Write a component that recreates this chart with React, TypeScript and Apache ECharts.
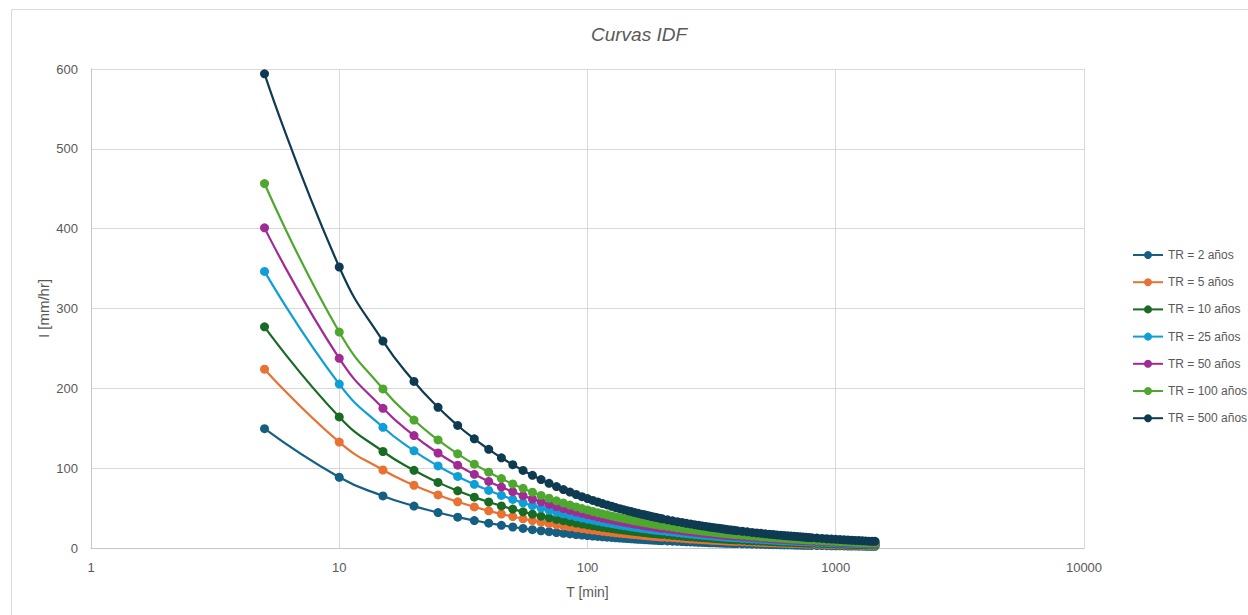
import React, { useEffect, useRef } from "react";
import * as echarts from "echarts";

// Duration T [min]
const T_MIN = [
  5, 10, 15, 20, 25, 30, 35, 40, 45, 50, 55, 60, 65, 70, 75, 80, 85, 90, 95, 100,
  105, 110, 115, 120, 125, 130, 135, 140, 145, 150, 155, 160, 165, 170, 175, 180, 185, 190, 195, 200,
  210, 220, 230, 240, 250, 260, 270, 280, 290, 300, 310, 320, 330, 340, 350, 360, 370, 380, 390, 400,
  420, 440, 460, 480, 500, 520, 540, 560, 580, 600, 620, 640, 660, 680, 700, 720, 740, 760, 780, 800,
  840, 880, 920, 960, 1000, 1040, 1080, 1120, 1160, 1200, 1240, 1280, 1320, 1360, 1400, 1440,
];

const SERIES_NAMES = [
  "TR = 2 años",
  "TR = 5 años",
  "TR = 10 años",
  "TR = 25 años",
  "TR = 50 años",
  "TR = 100 años",
  "TR = 500 años",
];

const COLORS = ["#156082", "#E97132", "#196B24", "#0F9ED5", "#A02B93", "#4EA72E", "#0E3A52"];

// Intensity I [mm/hr]
const TR2 = [
  149.5, 88.6, 65.2, 52.5, 44.4, 38.6, 34.4, 31.1, 28.4, 26.3, 24.5, 22.9, 21.6, 20.4, 19.3, 18.4, 17.6, 16.9, 16.2, 15.6,
  15.0, 14.5, 14.0, 13.6, 13.2, 12.8, 12.4, 12.1, 11.8, 11.5, 11.2, 10.9, 10.7, 10.4, 10.2, 10.0, 9.8, 9.6, 9.4, 9.2,
  8.9, 8.6, 8.3, 8.0, 7.8, 7.6, 7.4, 7.2, 7.0, 6.8, 6.6, 6.5, 6.3, 6.2, 6.1, 5.9, 5.8, 5.7, 5.6, 5.5,
  5.3, 5.1, 4.9, 4.8, 4.6, 4.5, 4.4, 4.2, 4.1, 4.0, 3.9, 3.8, 3.8, 3.7, 3.6, 3.5, 3.4, 3.4, 3.3, 3.2,
  3.1, 3.0, 2.9, 2.8, 2.7, 2.7, 2.6, 2.5, 2.5, 2.4, 2.3, 2.3, 2.2, 2.2, 2.1, 2.1,
];
const TR5 = [
  224, 132.7, 97.7, 78.6, 66.5, 57.9, 51.5, 46.6, 42.6, 39.4, 36.6, 34.3, 32.3, 30.6, 29.0, 27.6, 26.4, 25.3, 24.3, 23.3,
  22.5, 21.7, 21.0, 20.3, 19.7, 19.1, 18.6, 18.1, 17.6, 17.2, 16.8, 16.4, 16.0, 15.6, 15.3, 15.0, 14.7, 14.4, 14.1, 13.8,
  13.3, 12.9, 12.4, 12.1, 11.7, 11.3, 11.0, 10.7, 10.4, 10.2, 9.9, 9.7, 9.5, 9.3, 9.1, 8.9, 8.7, 8.5, 8.4, 8.2,
  7.9, 7.6, 7.4, 7.1, 6.9, 6.7, 6.5, 6.4, 6.2, 6.0, 5.9, 5.8, 5.6, 5.5, 5.4, 5.3, 5.2, 5.0, 5.0, 4.9,
  4.7, 4.5, 4.4, 4.2, 4.1, 4.0, 3.9, 3.8, 3.7, 3.6, 3.5, 3.4, 3.3, 3.2, 3.2, 3.1,
];
const TR10 = [
  277, 164.2, 120.9, 97.3, 82.2, 71.6, 63.7, 57.6, 52.7, 48.7, 45.3, 42.4, 39.9, 37.8, 35.8, 34.2, 32.6, 31.2, 30.0, 28.9,
  27.8, 26.8, 26.0, 25.2, 24.4, 23.7, 23.0, 22.4, 21.8, 21.2, 20.7, 20.2, 19.8, 19.3, 18.9, 18.5, 18.1, 17.8, 17.4, 17.1,
  16.5, 15.9, 15.4, 14.9, 14.4, 14.0, 13.6, 13.3, 12.9, 12.6, 12.3, 12.0, 11.7, 11.5, 11.2, 11.0, 10.7, 10.5, 10.3, 10.1,
  9.8, 9.4, 9.1, 8.8, 8.6, 8.3, 8.1, 7.9, 7.6, 7.5, 7.3, 7.1, 7.0, 6.8, 6.6, 6.5, 6.4, 6.2, 6.1, 6.0,
  5.8, 5.6, 5.4, 5.2, 5.1, 4.9, 4.8, 4.7, 4.5, 4.4, 4.3, 4.2, 4.1, 4.0, 3.9, 3.9,
];
const TR25 = [
  346.5, 205.3, 151.2, 121.7, 102.8, 89.6, 79.7, 72.1, 65.9, 60.9, 56.7, 53.1, 50.0, 47.3, 44.8, 42.7, 40.8, 39.1, 37.5, 36.1,
  34.8, 33.6, 32.5, 31.5, 30.5, 29.6, 28.8, 28.0, 27.3, 26.6, 25.9, 25.3, 24.7, 24.2, 23.7, 23.1, 22.7, 22.2, 21.8, 21.4,
  20.6, 19.9, 19.2, 18.6, 18.1, 17.5, 17.0, 16.6, 16.1, 15.8, 15.4, 15.0, 14.7, 14.3, 14.0, 13.7, 13.4, 13.2, 12.9, 12.7,
  12.2, 11.8, 11.4, 11.1, 10.7, 10.4, 10.1, 9.8, 9.6, 9.3, 9.1, 8.9, 8.7, 8.5, 8.3, 8.1, 8.0, 7.8, 7.7, 7.5,
  7.2, 7.0, 6.8, 6.5, 6.3, 6.2, 6.0, 5.8, 5.7, 5.5, 5.4, 5.3, 5.2, 5.0, 4.9, 4.8,
];
const TR50 = [
  401, 237.6, 175.0, 140.8, 119.0, 103.7, 92.3, 83.4, 76.3, 70.5, 65.6, 61.4, 57.8, 54.7, 51.9, 49.4, 47.2, 45.2, 43.4, 41.8,
  40.3, 38.9, 37.6, 36.4, 35.3, 34.2, 33.3, 32.4, 31.6, 30.8, 30.0, 29.3, 28.6, 28.0, 27.4, 26.8, 26.3, 25.7, 25.2, 24.7,
  23.9, 23.0, 22.3, 21.6, 20.9, 20.3, 19.7, 19.2, 18.7, 18.2, 17.8, 17.4, 17.0, 16.6, 16.2, 15.9, 15.6, 15.2, 15.0, 14.7,
  14.2, 13.6, 13.2, 12.8, 12.4, 12.0, 11.7, 11.4, 11.1, 10.8, 10.5, 10.3, 10.1, 9.8, 9.6, 9.4, 9.2, 9.0, 8.9, 8.7,
  8.4, 8.1, 7.8, 7.6, 7.3, 7.1, 6.9, 6.7, 6.6, 6.4, 6.3, 6.1, 6.0, 5.8, 5.7, 5.6,
];
const TR100 = [
  456.5, 270.5, 199.2, 160.3, 135.4, 118.0, 105.0, 95.0, 86.9, 80.3, 74.7, 69.9, 65.8, 62.3, 59.1, 56.3, 53.8, 51.5, 49.4, 47.6,
  45.8, 44.2, 42.8, 41.5, 40.2, 39.0, 37.9, 36.9, 35.9, 35.0, 34.1, 33.4, 32.6, 31.9, 31.2, 30.5, 29.9, 29.3, 28.7, 28.2,
  27.2, 26.2, 25.3, 24.6, 23.8, 23.1, 22.5, 21.9, 21.3, 20.8, 20.2, 19.8, 19.3, 18.9, 18.5, 18.1, 17.7, 17.3, 17.0, 16.7,
  16.1, 15.5, 15.0, 14.6, 14.1, 13.7, 13.3, 13.0, 12.6, 12.3, 12.0, 11.7, 11.5, 11.2, 11.0, 10.7, 10.5, 10.3, 10.1, 9.9,
  9.5, 9.2, 8.9, 8.6, 8.4, 8.1, 7.9, 7.7, 7.5, 7.3, 7.1, 6.9, 6.8, 6.6, 6.5, 6.3,
];
const TR500 = [
  594, 352.0, 259.2, 208.6, 176.2, 153.5, 136.7, 123.6, 113.0, 104.4, 97.2, 91.0, 85.7, 81.0, 76.9, 73.2, 70.0, 67.0, 64.3, 61.9,
  59.6, 57.6, 55.7, 53.9, 52.3, 50.7, 49.3, 48.0, 46.7, 45.6, 44.4, 43.4, 42.4, 41.5, 40.6, 39.7, 38.9, 38.1, 37.4, 36.6,
  35.3, 34.1, 33.0, 32.0, 30.9, 30.1, 29.2, 28.5, 27.7, 27.0, 26.3, 25.7, 25.1, 24.6, 24.1, 23.5, 23.0, 22.6, 22.2, 21.7,
  21.0, 20.2, 19.5, 18.9, 18.4, 17.8, 17.3, 16.9, 16.4, 16.0, 15.6, 15.3, 14.9, 14.6, 14.3, 14.0, 13.7, 13.4, 13.1, 12.9,
  12.4, 12.0, 11.6, 11.2, 10.9, 10.6, 10.3, 10.0, 9.7, 9.5, 9.3, 9.0, 8.9, 8.6, 8.4, 8.3,
];

const SERIES_VALUES = [TR2, TR5, TR10, TR25, TR50, TR100, TR500];

const FONT = "'Liberation Sans', Arial, sans-serif";
const TEXT_COLOR = "#595959";

export default function App() {
  const ref = useRef<HTMLDivElement>(null);

  useEffect(() => {
    document.body.style.margin = "0";
    const chart = echarts.init(ref.current!, null, { renderer: "svg" });
    chart.setOption({
      animation: false,
      backgroundColor: "#ffffff",
      textStyle: { fontFamily: FONT },
      title: {
        text: "Curvas IDF",
        left: 586,
        top: 20,
        textStyle: {
          fontFamily: FONT,
          fontSize: 19,
          fontStyle: "italic",
          fontWeight: "normal",
          color: TEXT_COLOR,
        },
      },
      graphic: [
        {
          type: "rect",
          shape: { x: 11.5, y: 9.5, width: 1260, height: 640 },
          style: { fill: "none", stroke: "#d9d9d9", lineWidth: 1 },
          silent: true,
        },
      ],
      legend: {
        orient: "vertical",
        left: 1127,
        top: 244,
        itemWidth: 30,
        itemHeight: 10,
        itemGap: 15.2,
        data: SERIES_NAMES,
        textStyle: { fontFamily: FONT, fontSize: 12, color: TEXT_COLOR },
      },
      grid: { left: 91, right: 164, top: 69, bottom: 67, containLabel: false },
      xAxis: {
        type: "log",
        logBase: 10,
        min: 1,
        max: 10000,
        name: "T [min]",
        nameLocation: "middle",
        nameGap: 37,
        nameMoveOverlap: false,
        nameTextStyle: { fontFamily: FONT, fontSize: 14, color: TEXT_COLOR },
        axisLine: { show: true, lineStyle: { color: "#c6c6c6", width: 1 } },
        axisTick: { show: false },
        minorTick: { show: false },
        axisLabel: {
          margin: 13,
          fontFamily: FONT,
          fontSize: 13,
          color: TEXT_COLOR,
          formatter: (v: number) => String(Math.round(v)),
        },
        splitLine: { show: true, lineStyle: { color: "#d9d9d9", width: 1 } },
      },
      yAxis: {
        type: "value",
        min: 0,
        max: 600,
        interval: 100,
        name: "I [mm/hr]",
        nameLocation: "middle",
        nameGap: 40,
        nameMoveOverlap: false,
        nameRotate: 90,
        nameTextStyle: { fontFamily: FONT, fontSize: 15, color: TEXT_COLOR },
        axisLine: { show: true, lineStyle: { color: "#c6c6c6", width: 1 } },
        axisTick: { show: false },
        axisLabel: { margin: 13, fontFamily: FONT, fontSize: 13, color: TEXT_COLOR },
        splitLine: { show: true, lineStyle: { color: "#d9d9d9", width: 1 } },
      },
      series: SERIES_NAMES.map((name, si) => ({
        name,
        type: "line",
        smooth: true,
        symbol: "circle",
        symbolSize: 9,
        showAllSymbol: true,
        color: COLORS[si],
        lineStyle: { width: 2.2, color: COLORS[si] },
        itemStyle: { color: COLORS[si] },
        data: T_MIN.map((t, i) => [t, SERIES_VALUES[si][i]]),
      })),
    });
    return () => chart.dispose();
  }, []);

  return (
    <div
      ref={ref}
      style={{ position: "absolute", left: 0, top: 0, width: 1248, height: 615 }}
    />
  );
}
